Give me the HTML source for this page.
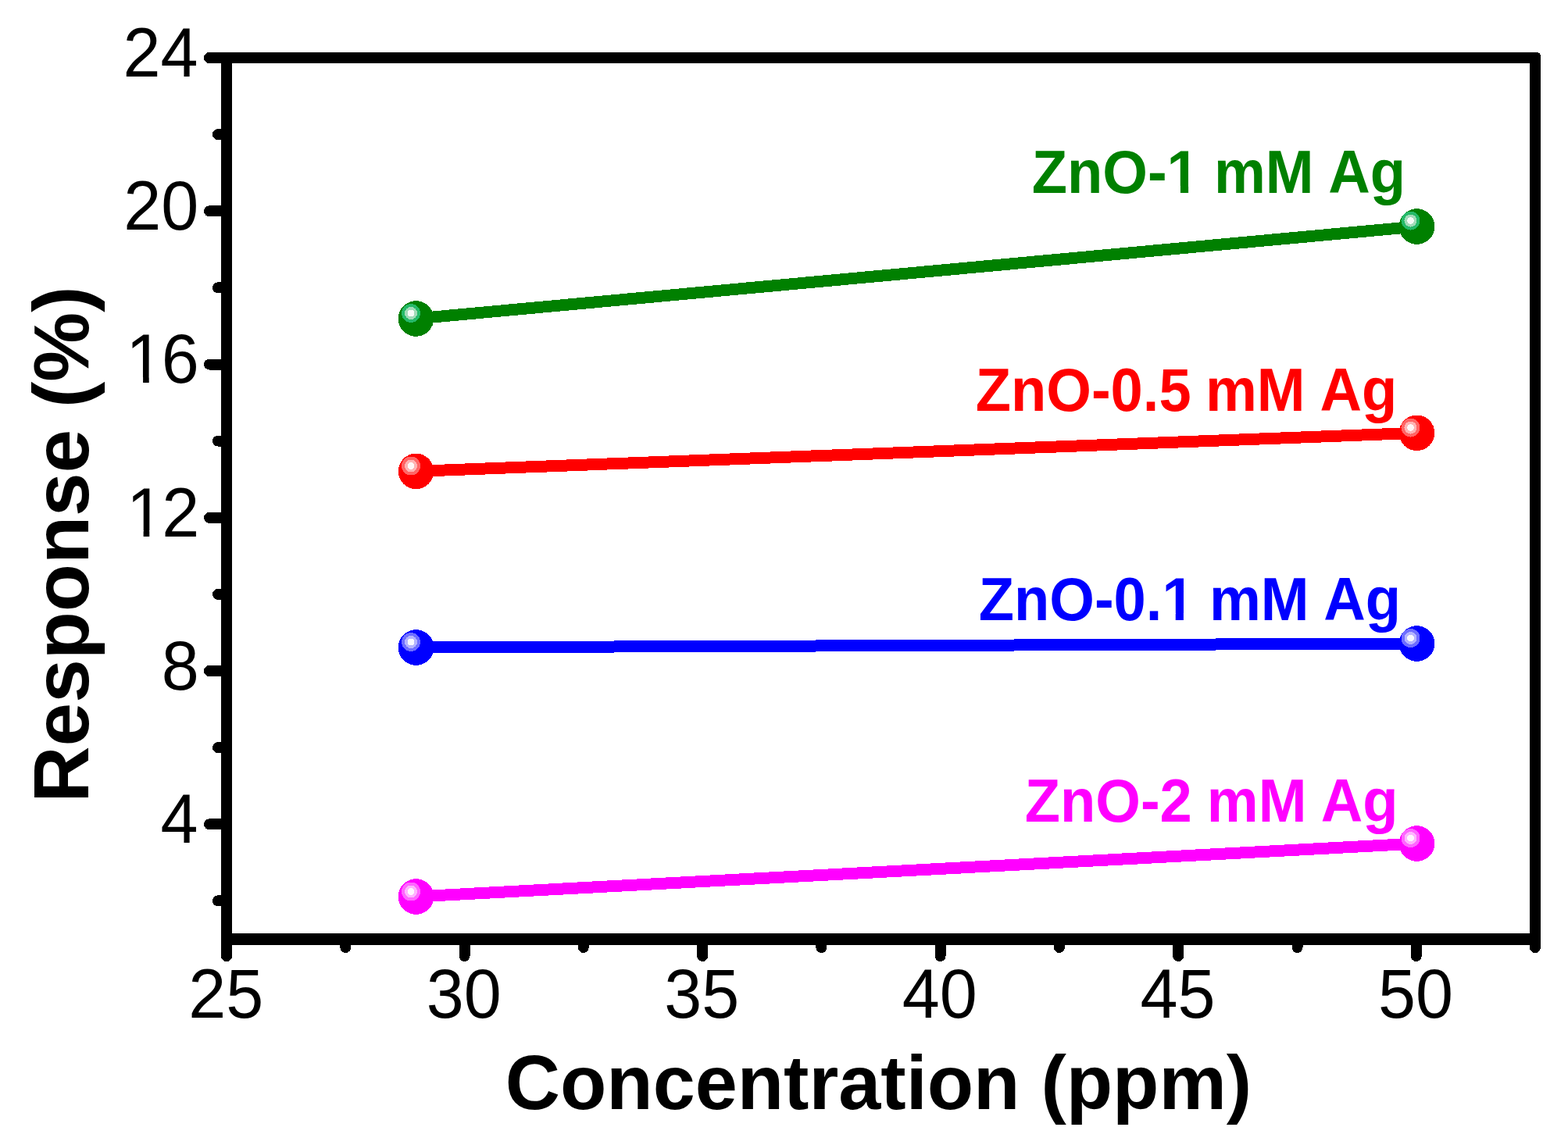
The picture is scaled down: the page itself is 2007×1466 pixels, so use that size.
<!DOCTYPE html>
<html><head><meta charset="utf-8"><title>Response vs Concentration</title>
<style>html,body{margin:0;padding:0;background:#fff;}body{width:2007px;height:1466px;overflow:hidden;}svg{display:block;}</style>
</head><body>
<svg shape-rendering="crispEdges" width="2007" height="1466" viewBox="0 0 2007 1466">
<path d="M283,67 H1967.5 A4.5,4.5 0 0 1 1972,71.5 V1210 H283 Z M297,81 V1195 H1958 V81 Z" fill="#000" fill-rule="evenodd"/>
<path d="M290.0,1202.5 V1224 M442.3,1202.5 V1213 M594.5,1202.5 V1224 M746.8,1202.5 V1213 M899.1,1202.5 V1224 M1051.4,1202.5 V1213 M1203.6,1202.5 V1224 M1355.9,1202.5 V1213 M1508.2,1202.5 V1224 M1660.5,1202.5 V1213 M1812.7,1202.5 V1224 M1965.0,1202.5 V1213 M290.0,74.0 H268 M290.0,172.1 H279 M290.0,270.3 H268 M290.0,368.4 H279 M290.0,466.5 H268 M290.0,564.6 H279 M290.0,662.8 H268 M290.0,760.9 H279 M290.0,859.0 H268 M290.0,957.2 H279 M290.0,1055.3 H268 M290.0,1153.4 H279" fill="none" stroke="#000" stroke-width="14" stroke-linecap="round"/>
<line x1="532.4" y1="408" x2="1813.5" y2="290" stroke="#008000" stroke-width="15"/>
<circle cx="532.4" cy="408" r="22.8" fill="#008000"/>
<circle cx="526" cy="401" r="12" fill="#26b969"/>
<circle cx="526" cy="401" r="8" fill="#a3dbb9"/>
<circle cx="526" cy="401" r="4.4" fill="#f7fbf8"/>
<circle cx="1813.5" cy="290" r="22.8" fill="#008000"/>
<circle cx="1805.5" cy="282.5" r="12" fill="#26b969"/>
<circle cx="1805.5" cy="282.5" r="8" fill="#a3dbb9"/>
<circle cx="1805.5" cy="282.5" r="4.4" fill="#f7fbf8"/>
<line x1="532.5" y1="603.4" x2="1813.5" y2="554.3" stroke="#ff0000" stroke-width="15"/>
<circle cx="532.5" cy="603.4" r="22.8" fill="#ff0000"/>
<circle cx="526" cy="596.5" r="12" fill="#ff6666"/>
<circle cx="526" cy="596.5" r="8" fill="#ffb4b4"/>
<circle cx="526" cy="596.5" r="4.4" fill="#fff8f8"/>
<circle cx="1813.5" cy="554.3" r="22.8" fill="#ff0000"/>
<circle cx="1805.5" cy="547.5" r="12" fill="#ff6666"/>
<circle cx="1805.5" cy="547.5" r="8" fill="#ffb4b4"/>
<circle cx="1805.5" cy="547.5" r="4.4" fill="#fff8f8"/>
<line x1="532.5" y1="829" x2="1813.5" y2="824" stroke="#0000ff" stroke-width="15"/>
<circle cx="532.5" cy="829" r="22.8" fill="#0000ff"/>
<circle cx="526" cy="822" r="12" fill="#6e6eff"/>
<circle cx="526" cy="822" r="8" fill="#b4b4ff"/>
<circle cx="526" cy="822" r="4.4" fill="#f8f8ff"/>
<circle cx="1813.5" cy="824" r="22.8" fill="#0000ff"/>
<circle cx="1805.5" cy="817" r="12" fill="#6e6eff"/>
<circle cx="1805.5" cy="817" r="8" fill="#b4b4ff"/>
<circle cx="1805.5" cy="817" r="4.4" fill="#f8f8ff"/>
<line x1="532.5" y1="1148" x2="1813.5" y2="1080" stroke="#ff00ff" stroke-width="15"/>
<circle cx="532.5" cy="1148" r="22.8" fill="#ff00ff"/>
<circle cx="526" cy="1141.5" r="12" fill="#ff66ff"/>
<circle cx="526" cy="1141.5" r="8" fill="#ffb4ff"/>
<circle cx="526" cy="1141.5" r="4.4" fill="#fff6ff"/>
<circle cx="1813.5" cy="1080" r="22.8" fill="#ff00ff"/>
<circle cx="1805.5" cy="1073" r="12" fill="#ff66ff"/>
<circle cx="1805.5" cy="1073" r="8" fill="#ffb4ff"/>
<circle cx="1805.5" cy="1073" r="4.4" fill="#fff6ff"/>
<clipPath id="nofoot" clipPathUnits="userSpaceOnUse"><path d="M0,0 H2007 V1466 H0 Z M166.74,482.67 H183.08 V492.32 H166.74 Z M190.71,482.67 H206.37 V492.32 H190.71 Z M167.29,678.93 H183.63 V688.58 H167.29 Z M191.26,678.93 H206.91 V688.58 H191.26 Z M1497.10,238.09 H1510.93 V249.00 H1497.10 Z M1521.09,238.09 H1533.98 V249.00 H1521.09 Z M1490.90,785.09 H1504.73 V796.00 H1490.90 Z M1514.89,785.09 H1527.78 V796.00 H1514.89 Z" clip-rule="evenodd"/></clipPath>
<g clip-path="url(#nofoot)"><text transform="translate(157.50,97.80) scale(0.97,1)" style="font-family:'Liberation Sans',Arial,Helvetica,sans-serif;font-size:89px">24</text>
<text transform="translate(158.35,294.06) scale(0.97,1)" style="font-family:'Liberation Sans',Arial,Helvetica,sans-serif;font-size:89px">20</text>
<text transform="translate(158.77,490.32) scale(0.97,1)" style="font-family:'Liberation Sans',Arial,Helvetica,sans-serif;font-size:89px"><tspan dx="2.68">1</tspan><tspan dx="-2.68">6</tspan></text>
<text transform="translate(159.32,686.58) scale(0.97,1)" style="font-family:'Liberation Sans',Arial,Helvetica,sans-serif;font-size:89px"><tspan dx="2.68">1</tspan><tspan dx="-2.68">2</tspan></text>
<text transform="translate(206.74,882.84) scale(0.97,1)" style="font-family:'Liberation Sans',Arial,Helvetica,sans-serif;font-size:89px">8</text>
<text transform="translate(205.52,1079.10) scale(0.97,1)" style="font-family:'Liberation Sans',Arial,Helvetica,sans-serif;font-size:89px">4</text>
<text transform="translate(289.20,1303) scale(0.97,1)" text-anchor="middle" style="font-family:'Liberation Sans',Arial,Helvetica,sans-serif;font-size:89px">25</text>
<text transform="translate(593.75,1303) scale(0.97,1)" text-anchor="middle" style="font-family:'Liberation Sans',Arial,Helvetica,sans-serif;font-size:89px">30</text>
<text transform="translate(898.29,1303) scale(0.97,1)" text-anchor="middle" style="font-family:'Liberation Sans',Arial,Helvetica,sans-serif;font-size:89px">35</text>
<text transform="translate(1202.84,1303) scale(0.97,1)" text-anchor="middle" style="font-family:'Liberation Sans',Arial,Helvetica,sans-serif;font-size:89px">40</text>
<text transform="translate(1507.38,1303) scale(0.97,1)" text-anchor="middle" style="font-family:'Liberation Sans',Arial,Helvetica,sans-serif;font-size:89px">45</text>
<text transform="translate(1811.93,1303) scale(0.97,1)" text-anchor="middle" style="font-family:'Liberation Sans',Arial,Helvetica,sans-serif;font-size:89px">50</text>
<text transform="translate(113,1027.69) rotate(-90)" style="font-family:'Liberation Sans',Arial,Helvetica,sans-serif;font-weight:bold;font-size:100px">Response (%)</text>
<text transform="translate(646.81,1420) scale(0.9916,1)" style="font-family:'Liberation Sans',Arial,Helvetica,sans-serif;font-weight:bold;font-size:98px">Concentration (ppm)</text>
<g><text transform="translate(1320.79,247) scale(0.975,1.02)" fill="#008000" style="font-family:'Liberation Sans',Arial,Helvetica,sans-serif;font-weight:bold;font-size:76px">ZnO-1</text><text transform="translate(1553.92,247) scale(0.975,1.02)" fill="#008000" style="font-family:'Liberation Sans',Arial,Helvetica,sans-serif;font-weight:bold;font-size:76px">mM</text><text transform="translate(1700.15,247) scale(0.975,1.02)" fill="#008000" style="font-family:'Liberation Sans',Arial,Helvetica,sans-serif;font-weight:bold;font-size:76px">Ag</text></g>
<g><text transform="translate(1248.79,526) scale(0.975,1.02)" fill="#ff0000" style="font-family:'Liberation Sans',Arial,Helvetica,sans-serif;font-weight:bold;font-size:76px">ZnO-0.5</text><text transform="translate(1542.92,526) scale(0.975,1.02)" fill="#ff0000" style="font-family:'Liberation Sans',Arial,Helvetica,sans-serif;font-weight:bold;font-size:76px">mM</text><text transform="translate(1689.45,526) scale(0.975,1.02)" fill="#ff0000" style="font-family:'Liberation Sans',Arial,Helvetica,sans-serif;font-weight:bold;font-size:76px">Ag</text></g>
<g><text transform="translate(1252.79,794) scale(0.975,1.02)" fill="#0000ff" style="font-family:'Liberation Sans',Arial,Helvetica,sans-serif;font-weight:bold;font-size:76px">ZnO-0.1</text><text transform="translate(1547.92,794) scale(0.975,1.02)" fill="#0000ff" style="font-family:'Liberation Sans',Arial,Helvetica,sans-serif;font-weight:bold;font-size:76px">mM</text><text transform="translate(1694.15,794) scale(0.975,1.02)" fill="#0000ff" style="font-family:'Liberation Sans',Arial,Helvetica,sans-serif;font-weight:bold;font-size:76px">Ag</text></g>
<g><text transform="translate(1311.79,1052) scale(0.975,1.02)" fill="#ff00ff" style="font-family:'Liberation Sans',Arial,Helvetica,sans-serif;font-weight:bold;font-size:76px">ZnO-2</text><text transform="translate(1544.82,1052) scale(0.975,1.02)" fill="#ff00ff" style="font-family:'Liberation Sans',Arial,Helvetica,sans-serif;font-weight:bold;font-size:76px">mM</text><text transform="translate(1690.75,1052) scale(0.975,1.02)" fill="#ff00ff" style="font-family:'Liberation Sans',Arial,Helvetica,sans-serif;font-weight:bold;font-size:76px">Ag</text></g></g>
</svg>
</body></html>
